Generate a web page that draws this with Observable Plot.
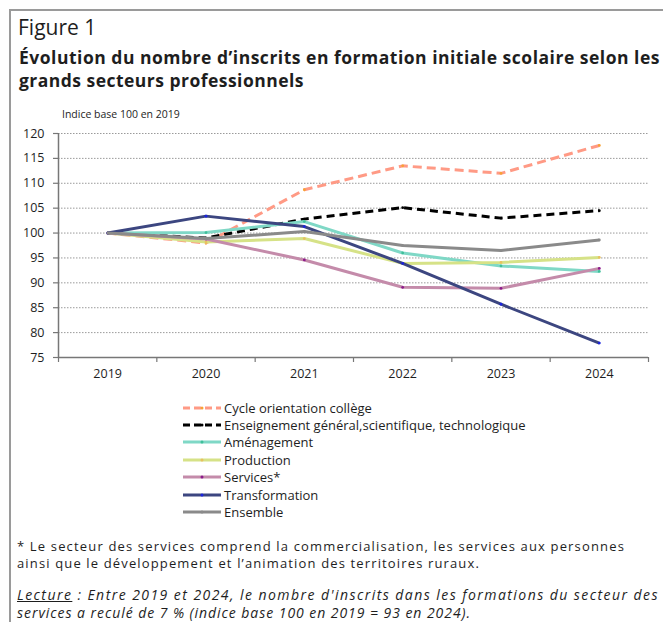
<!DOCTYPE html>
<html>
<head>
<meta charset="utf-8">
<script src="https://cdn.jsdelivr.net/npm/d3@7"></script>
<script src="https://cdn.jsdelivr.net/npm/@observablehq/plot@0.6"></script>
<style>
  html, body { margin: 0; padding: 0; background: #fff; }
  body { width: 663px; height: 622px; position: relative; overflow: hidden; font-family: "Open Sans", "DejaVu Sans", sans-serif; color: #1e1e1e; }
  .frame { position: absolute; left: 9px; top: 9px; width: 660px; height: 620px; border-left: 2px solid #9a9a9a; border-top: 2px solid #9a9a9a; }
  .abs { position: absolute; white-space: nowrap; }
  .ln { display: block; white-space: nowrap; width: max-content; }
  #fig { left: 18px; top: 14px; font-size: 21px; line-height: 26px; }
  #title { left: 19px; top: 46px; font-size: 17.5px; font-weight: 700; line-height: 22.5px; }
  #unit { left: 62px; top: 107px; font-size: 10.5px; line-height: 14px; }
  #chart { left: 0; top: 120px; }
  #legend { left: 183px; top: 399px; font-size: 13px; }
  .lrow { height: 17.4px; display: flex; align-items: center; }
  .lrow svg { margin-right: 3px; }
  #note { left: 17px; top: 538px; font-size: 13px; line-height: 17px; }
  #lecture { left: 17px; top: 586px; font-size: 14px; line-height: 18px; font-style: italic; }
</style>
</head>
<body>
<div class="frame"></div>
<div class="abs" id="fig">Figure 1</div>
<div class="abs" id="title"><span class="ln" data-w="641">Évolution du nombre d’inscrits en formation initiale scolaire selon les</span><span class="ln" data-w="285">grands secteurs professionnels</span></div>
<div class="abs" id="unit">Indice base 100 en 2019</div>
<div class="abs" id="chart"></div>
<div class="abs" id="legend"></div>
<div class="abs" id="note"><span class="ln" data-w="608">* Le secteur des services comprend la commercialisation, les services aux personnes</span><span class="ln" data-w="463">ainsi que le développement et l’animation des territoires ruraux.</span></div>
<div class="abs" id="lecture"><span class="ln" data-w="642"><u>Lecture</u> : Entre 2019 et 2024, le nombre d'inscrits dans les formations du secteur des</span><span class="ln" data-w="454">services a reculé de 7 % (indice base 100 en 2019 = 93 en 2024).</span></div>
<script>
// ---- data ----
const years = [2019, 2020, 2021, 2022, 2023, 2024];
const seriesNames = [
  "Cycle orientation collège",
  "Enseignement général,scientifique, technologique",
  "Aménagement",
  "Production",
  "Services*",
  "Transformation",
  "Ensemble"
];
const cycle          = [100, 98.0, 108.7, 113.5, 112.0, 117.6];
const enseignement   = [100, 99.0, 102.8, 105.1, 103.0, 104.5];
const amenagement    = [100, 100.1, 102.3, 96.0, 93.4, 92.3];
const production     = [100, 98.2, 98.9, 93.9, 94.1, 95.1];
const services       = [100, 98.8, 94.6, 89.1, 88.9, 92.9];
const transformation = [100, 103.4, 101.3, 93.9, 85.7, 77.9];
const ensemble       = [100, 98.9, 100.3, 97.5, 96.5, 98.6];
const yTicks = [75, 80, 85, 90, 95, 100, 105, 110, 115, 120];

// ---- styles (separate from data) ----
const lineColors = ["#FF9A85", "#000000", "#7FD8C6", "#D6E287", "#C48BAA", "#3C4680", "#8A8A8A"];
const dotColors  = ["#F7A234", "#000000", "#3FBF9A", "#E8C060", "#8B1A8B", "#1A22E0", "#8A8A8A"];
const dashes     = ["9,5", "8,5", null, null, null, null, null];

const allValues = [cycle, enseignement, amenagement, production, services, transformation, ensemble];
const rows = seriesNames.flatMap((name, i) => years.map((year, j) => ({series: name, idx: i, year, value: allValues[i][j]})));
const boundaries = years.map(y => y - 0.5).concat([years[years.length - 1] + 0.5]);

const lineMarks = seriesNames.flatMap((name, i) => {
  const d = rows.filter(r => r.idx === i);
  return [
    Plot.line(d, {x: "year", y: "value", stroke: lineColors[i], strokeWidth: 3, strokeDasharray: dashes[i] || undefined, strokeLinejoin: "round", strokeLinecap: "butt"}),
    Plot.dot(d, {x: "year", y: "value", r: 1.4, fill: dotColors[i], stroke: "none"})
  ];
});

const chart = Plot.plot({
  width: 663,
  height: 270,
  marginLeft: 58,
  marginRight: 15,
  marginTop: 13,
  marginBottom: 33,
  x: {type: "linear", domain: [boundaries[0], boundaries[boundaries.length - 1]]},
  y: {domain: [75, 120]},
  style: {fontFamily: "'Open Sans', sans-serif", fontSize: "12.5px", color: "#1e1e1e", background: "transparent"},
  marks: [
    Plot.gridY(yTicks.filter(t => t > 75), {stroke: "#9a9a9a", strokeOpacity: 1, strokeDasharray: "1.5,1.5", strokeWidth: 1}),
    Plot.axisY({ticks: yTicks, tickSize: 5, tickPadding: 9, tickFormat: d => String(d), label: null, stroke: "#777", strokeWidth: 1.2}),
    Plot.axisX({ticks: boundaries, tickSize: 5, tickFormat: () => "", label: null, stroke: "#777", strokeWidth: 1.2}),
    Plot.axisX({ticks: years, tickSize: 0, tickPadding: 12, tickFormat: d => String(d), label: null}),
    Plot.ruleX([boundaries[0]], {stroke: "#777", strokeWidth: 1.5}),
    Plot.ruleY([75], {stroke: "#777", strokeWidth: 1.5}),
    ...lineMarks
  ]
});
document.getElementById("chart").appendChild(chart);

// ---- legend ----
const legend = document.getElementById("legend");
seriesNames.forEach((name, i) => {
  const row = document.createElement("div");
  row.className = "lrow";
  const ns = "http://www.w3.org/2000/svg";
  const svg = document.createElementNS(ns, "svg");
  svg.setAttribute("width", "38");
  svg.setAttribute("height", "8");
  const ln = document.createElementNS(ns, "line");
  ln.setAttribute("x1", "0"); ln.setAttribute("x2", "38");
  ln.setAttribute("y1", "4"); ln.setAttribute("y2", "4");
  ln.setAttribute("stroke", lineColors[i]);
  ln.setAttribute("stroke-width", "3");
  if (dashes[i]) ln.setAttribute("stroke-dasharray", "7,4");
  svg.appendChild(ln);
  const c = document.createElementNS(ns, "circle");
  c.setAttribute("cx", "19"); c.setAttribute("cy", "4"); c.setAttribute("r", "1.5");
  c.setAttribute("fill", dotColors[i]);
  svg.appendChild(c);
  row.appendChild(svg);
  const t = document.createElement("span");
  t.textContent = name;
  row.appendChild(t);
  legend.appendChild(row);
});

// ---- fit each line to the reference width via letter-spacing ----
document.querySelectorAll(".ln[data-w]").forEach(el => {
  const target = +el.dataset.w;
  const w = el.getBoundingClientRect().width;
  const n = el.textContent.length;
  el.style.letterSpacing = ((target - w) / n) + "px";
});
</script>
</body>
</html>
